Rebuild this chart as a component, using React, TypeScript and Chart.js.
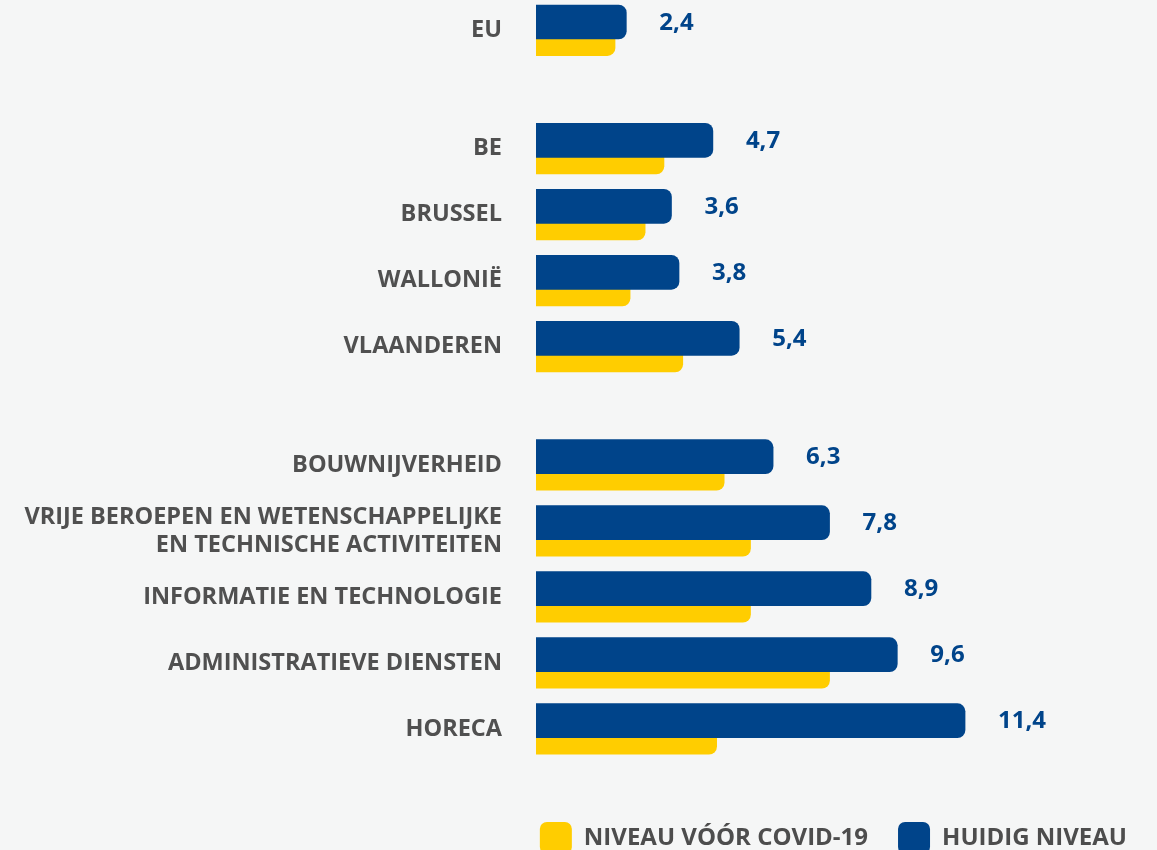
import React, { useEffect, useRef } from "react";
import { Chart, registerables } from "chart.js";

Chart.register(...registerables);

// ---- data ----
const categories: (string | string[])[] = [
  "EU",
  "BE",
  "BRUSSEL",
  "WALLONIË",
  "VLAANDEREN",
  "BOUWNIJVERHEID",
  ["VRIJE BEROEPEN EN WETENSCHAPPELIJKE", "EN TECHNISCHE ACTIVITEITEN"],
  "INFORMATIE EN TECHNOLOGIE",
  "ADMINISTRATIEVE DIENSTEN",
  "HORECA",
];
// which block each category belongs to (blocks are separated by a gap)
const groupIds = [0, 1, 1, 1, 1, 2, 2, 2, 2, 2];
const preCovidLevel = [2.1, 3.4, 2.9, 2.5, 3.9, 5.0, 5.7, 5.7, 7.8, 4.8];
const currentLevel = [2.4, 4.7, 3.6, 3.8, 5.4, 6.3, 7.8, 8.9, 9.6, 11.4];
const seriesLabels = ["NIVEAU VÓÓR COVID-19", "HUIDIG NIVEAU"];

// ---- layout / style ----
const GROUP_GAP = 0.793;
const BAR_SHIFT = 0.126;
const rowPos = groupIds.map((g, i) => i + g * GROUP_GAP);

const BLUE = "#00448a";
const YELLOW = "#ffcd00";
const BG = "#f5f6f6";
const GREY = "#505050";
const FONT = "'Open Sans', 'DejaVu Sans', sans-serif";

const fmt = (v: number) => v.toFixed(1).replace(".", ",");

const valueLabels = {
  id: "valueLabels",
  afterDatasetsDraw(chart: any) {
    const meta = chart.getDatasetMeta(1);
    const ctx = chart.ctx;
    ctx.save();
    ctx.font = `bold 24px ${FONT}`;
    ctx.fillStyle = BLUE;
    ctx.textAlign = "left";
    ctx.textBaseline = "middle";
    meta.data.forEach((el: any, i: number) => {
      ctx.fillText(fmt(currentLevel[i]), el.x + 33, el.y + 1);
    });
    ctx.restore();
  },
};

export default function App() {
  const ref = useRef<HTMLCanvasElement | null>(null);

  useEffect(() => {
    document.body.style.margin = "0";
    document.body.style.background = BG;
    const canvas = ref.current!;
    const chart = new Chart(canvas, {
      type: "bar",
      data: {
        datasets: [
          {
            label: seriesLabels[0],
            data: categories.map((_, i) => ({ x: preCovidLevel[i], y: rowPos[i] + BAR_SHIFT })),
            backgroundColor: YELLOW,
            borderRadius: 8,
            borderSkipped: "start",
            barThickness: 34,
            grouped: false,
            order: 1,
          },
          {
            label: seriesLabels[1],
            data: categories.map((_, i) => ({ x: currentLevel[i], y: rowPos[i] - BAR_SHIFT })),
            backgroundColor: BLUE,
            borderRadius: 8,
            borderSkipped: "start",
            barThickness: 34,
            grouped: false,
            order: 0,
          },
        ],
      },
      options: {
        indexAxis: "y",
        animation: false,
        responsive: false,
        layout: { padding: { left: 0, right: 0, top: 0, bottom: 0 } },
        scales: {
          x: {
            type: "linear",
            display: false,
            min: 0,
            max: 16.5,
          },
          y: {
            type: "linear",
            reverse: true,
            offset: false,
            bounds: "data",
            min: -0.459,
            max: 11.541,
            grid: { display: false, drawTicks: false },
            border: { display: false },
            afterBuildTicks: (scale: any) => {
              scale.ticks = rowPos.map((v) => ({ value: v }));
            },
            afterFit: (scale: any) => {
              scale.width = 536;
              scale.paddingTop = 0;
              scale.paddingBottom = 0;
            },
            ticks: {
              autoSkip: false,
              padding: 34,
              color: GREY,
              font: { family: FONT, size: 23.5, weight: "bold", lineHeight: 1.19 },
              callback: (_v: any, i: number) => categories[i],
            },
          },
        },
        plugins: {
          legend: {
            position: "bottom",
            align: "end",
            labels: {
              boxWidth: 32,
              boxHeight: 32,
              useBorderRadius: true,
              borderRadius: 7,
              padding: 30,
              color: "#4d4d4d",
              font: { family: FONT, size: 24, weight: "bold" },
              sort: (a: any, b: any) => a.datasetIndex - b.datasetIndex,
            },
          },
          tooltip: { enabled: false },
        },
      },
      plugins: [valueLabels],
    } as any);
    return () => chart.destroy();
  }, []);

  return (
    <div
      style={{
        position: "absolute",
        left: 0,
        top: 0,
        width: 1157,
        height: 864,
        background: BG,
        overflow: "hidden",
      }}
    >
      <canvas ref={ref} width={1157} height={864} style={{ display: "block" }} />
    </div>
  );
}
